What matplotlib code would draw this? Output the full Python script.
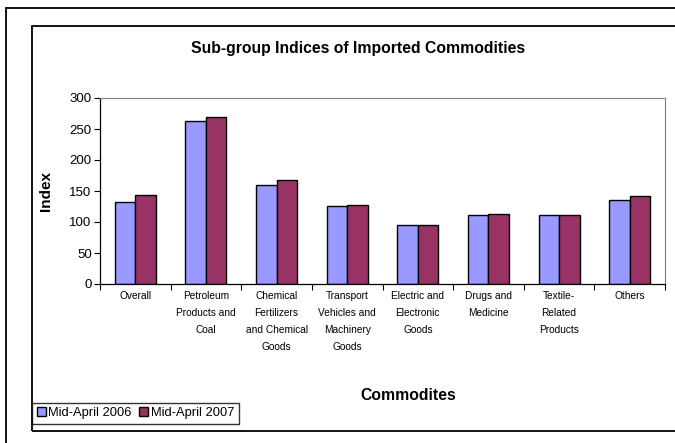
import numpy as np
import matplotlib.pyplot as plt
from matplotlib.patches import Rectangle

plt.rcParams['font.family'] = ['Liberation Sans', 'DejaVu Sans']

# datos
categories = ["Overall", "Petroleum\nProducts and\nCoal", "Chemical\nFertilizers\nand Chemical\nGoods",
              "Transport\nVehicles and\nMachinery\nGoods", "Electric and\nElectronic\nGoods",
              "Drugs and\nMedicine", "Textile-\nRelated\nProducts", "Others"]
april_2006 = [132, 263, 160, 126, 95, 111, 111, 135]
april_2007 = [144, 270, 168, 128, 95, 113, 111, 142]
series_names = ["Mid-April 2006", "Mid-April 2007"]

W, H = 675, 443
fig = plt.figure(figsize=(W/100, H/100), dpi=100)

def fx(px):
    return px / W

def fy(py):
    return 1 - py / H

# marcos exteriores
fig.patches.append(Rectangle((fx(6), fy(445)), fx(680), fy(8) - fy(445), transform=fig.transFigure,
                             fill=False, edgecolor='black', lw=1.3))
fig.patches.append(Rectangle((fx(32), fy(431)), fx(660), fy(26) - fy(431), transform=fig.transFigure,
                             fill=False, edgecolor='black', lw=1.3))

ax = fig.add_axes([fx(100), fy(284), fx(665) - fx(100), fy(98) - fy(284)])
x = np.arange(len(categories))
w = 0.29
b1 = ax.bar(x - w/2, april_2006, w, color='#9999FF', edgecolor='black', lw=1.0, label=series_names[0])
b2 = ax.bar(x + w/2, april_2007, w, color='#993366', edgecolor='black', lw=1.0, label=series_names[1])

ax.set_xlim(-0.5, len(categories) - 0.5)
ax.set_ylim(0, 300)
ax.set_yticks(np.arange(0, 301, 50))
ax.tick_params(axis='y', labelsize=9.5, direction='out', length=4, width=0.8, pad=2)
ax.set_xticks(np.arange(-0.5, len(categories), 1))
ax.set_xticklabels([])
ax.tick_params(axis='x', direction='out', length=4, width=0.8)
for i, c in enumerate(categories):
    ax.text(i, -12, c, ha='center', va='top', fontsize=7.3, linespacing=1.85,
            transform=ax.transData)

for s in ['top', 'right']:
    ax.spines[s].set_color('#808080')
ax.spines['left'].set_linewidth(0.9)
ax.spines['bottom'].set_linewidth(0.9)

ax.set_ylabel("Index", fontsize=11, fontweight='bold', labelpad=12)
fig.text(fx(358), fy(48), "Sub-group Indices of Imported Commodities", ha='center', va='center',
         fontsize=11.3, fontweight='bold')
fig.text(fx(408), fy(396), "Commodites", ha='center', va='center', fontsize=11.3, fontweight='bold')

leg = fig.legend(handles=[b1, b2], loc='lower left', bbox_to_anchor=(fx(32), fy(424)), ncol=2,
                 fontsize=9.3, frameon=True, fancybox=False, edgecolor='black',
                 handlelength=0.7, handleheight=0.7, handletextpad=0.2, columnspacing=0.6,
                 borderpad=0.35, borderaxespad=0)
leg.get_frame().set_linewidth(1.0)

fig.savefig("out.png", dpi=100)
